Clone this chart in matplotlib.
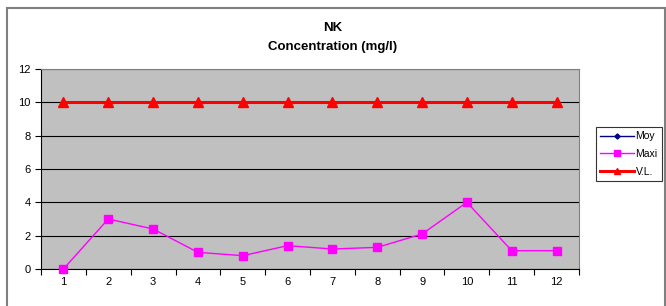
import numpy as np
import matplotlib
matplotlib.use("Agg")
import matplotlib.pyplot as plt
from matplotlib.patches import Rectangle

plt.rcParams['font.family'] = ['Liberation Sans', 'DejaVu Sans']

# Données
mois = list(range(1, 13))
moy = [np.nan] * 12
maxi = [0, 3, 2.4, 1, 0.8, 1.4, 1.2, 1.3, 2.1, 4, 1.1, 1.1]
vl = [10] * 12

fig = plt.figure(figsize=(6.66, 3.06), dpi=100)
ax = fig.add_axes([41 / 666, 37 / 306, 538 / 666, 200 / 306])

# Cadre extérieur du graphique
fig.patches.append(Rectangle((7 / 666, -0.05), 657.5 / 666, 1.05 - 8 / 306,
                             transform=fig.transFigure, fill=False,
                             edgecolor='#808080', linewidth=1.5))

ax.set_facecolor('#c0c0c0')
ax.plot(mois, moy, color='#000080', marker='D', markersize=4, lw=1, label='Moy')
ax.plot(mois, maxi, color='#ff00ff', marker='s', markersize=6, lw=1, label='Maxi',
        clip_on=False, zorder=3)
ax.plot(mois, vl, color='#ff0000', marker='^', markersize=7, lw=2.2, label='V.L.',
        clip_on=False, zorder=4)

ax.set_xlim(0.5, 12.5)
ax.set_ylim(0, 12)
ax.set_yticks(range(0, 13, 2))
ax.set_xticks(mois)
ax.set_xticks(np.arange(0.5, 13, 1), minor=True)
ax.tick_params(axis='x', which='major', length=0, labelsize=8, pad=6)
ax.tick_params(axis='x', which='minor', length=4, direction='out', width=0.8)
ax.tick_params(axis='y', length=4, width=0.8, labelsize=8)
ax.grid(axis='y', color='black', linewidth=0.8)
ax.set_axisbelow(True)
for s in ['top', 'right']:
    ax.spines[s].set_color('#808080')
for s in ['left', 'bottom']:
    ax.spines[s].set_color('black')

fig.text(0.5, 1 - 28 / 306, 'NK', ha='center', va='center', fontsize=9.5, fontweight='bold')
fig.text(0.5, 1 - 47 / 306, 'Concentration (mg/l)', ha='center', va='center',
         fontsize=9.5, fontweight='bold')

leg = fig.legend(loc='upper left', bbox_to_anchor=(596 / 666, 1 - 127 / 306),
                 fontsize=7.5, frameon=True, fancybox=False, edgecolor='black',
                 handlelength=3.2, borderpad=0.4, labelspacing=0.75, handletextpad=0.2,
                 borderaxespad=0, markerscale=0.65)
leg.get_frame().set_linewidth(0.8)

fig.savefig('out.png', dpi=100)
